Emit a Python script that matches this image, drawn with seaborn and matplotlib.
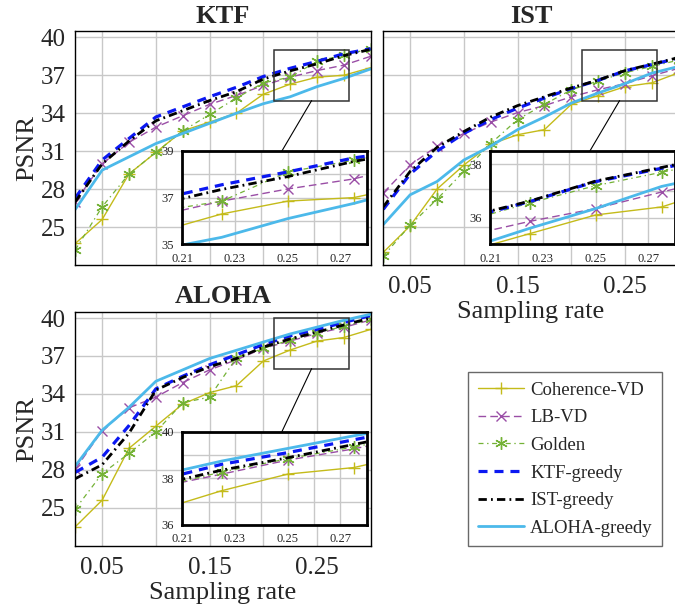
import matplotlib
matplotlib.use("Agg")
import matplotlib.pyplot as plt
from matplotlib.patches import Rectangle, ConnectionPatch
import pandas as pd
import seaborn as sns

# ---------------------------------------------------------------- data
rates = [0.025, 0.05, 0.075, 0.1, 0.125, 0.15, 0.175, 0.2, 0.225, 0.25, 0.275, 0.3]
methods = ["Coherence-VD", "LB-VD", "Golden", "KTF-greedy", "IST-greedy", "ALOHA-greedy"]
datasets = ["KTF", "IST", "ALOHA"]

# PSNR (dB) for the KTF reconstruction
ktf_coherence = [23.7, 25.6, 29.2, 30.9, 32.6, 33.3, 34.0, 35.5, 36.3, 36.85, 37.0, 37.6]
ktf_lbvd = [27.0, 30.0, 31.7, 32.9, 33.8, 34.7, 35.4, 36.2, 36.85, 37.37, 37.8, 38.5]
ktf_golden = [23.2, 26.6, 29.2, 30.9, 32.6, 33.9, 35.2, 36.4, 36.85, 38.1, 38.6, 39.1]
ktf_ktfgreedy = [27.3, 30.3, 32.0, 33.7, 34.5, 35.3, 36.05, 36.9, 37.55, 38.1, 38.7, 39.1]
ktf_istgreedy = [27.0, 30.0, 31.8, 33.4, 34.2, 35.0, 35.7, 36.7, 37.35, 37.9, 38.55, 39.05]
ktf_alohagreedy = [26.4, 29.5, 30.55, 31.6, 32.4, 33.2, 34.0, 34.75, 35.3, 36.1, 36.75, 37.5]

# PSNR (dB) for the IST reconstruction
ist_coherence = [23.0, 25.1, 28.0, 29.9, 31.55, 32.3, 32.7, 34.7, 35.4, 36.1, 36.4, 37.2]
ist_lbvd = [27.7, 29.9, 31.4, 32.4, 33.3, 34.05, 34.6, 35.3, 35.86, 36.34, 36.96, 37.55]
ist_golden = [22.7, 25.15, 27.2, 29.4, 31.6, 33.5, 34.7, 35.85, 36.55, 37.2, 37.7, 38.2]
ist_ktfgreedy = [26.4, 29.2, 31.0, 32.4, 33.5, 34.4, 35.2, 35.95, 36.6, 37.35, 37.85, 38.35]
ist_istgreedy = [26.6, 29.4, 31.3, 32.55, 33.7, 34.6, 35.3, 36.0, 36.62, 37.37, 37.88, 38.4]
ist_alohagreedy = [25.2, 27.55, 28.6, 30.3, 31.4, 32.7, 33.7, 34.8, 35.6, 36.34, 37.17, 37.7]

# PSNR (dB) for the ALOHA reconstruction
aloha_coherence = [23.5, 25.6, 29.7, 31.45, 33.2, 34.1, 34.65, 36.6, 37.47, 38.18, 38.46, 39.1]
aloha_lbvd = [28.05, 31.1, 32.9, 33.75, 34.9, 35.9, 36.7, 37.6, 38.18, 38.78, 39.26, 39.85]
aloha_golden = [24.9, 27.7, 29.3, 31.0, 33.3, 33.75, 36.85, 37.6, 38.27, 38.84, 39.34, 39.9]
aloha_ktfgreedy = [27.8, 29.0, 31.5, 34.4, 35.4, 36.3, 37.1, 37.9, 38.6, 39.1, 39.65, 40.2]
aloha_istgreedy = [27.3, 28.4, 30.9, 34.3, 35.3, 36.15, 36.8, 37.7, 38.35, 38.88, 39.45, 40.0]
aloha_alohagreedy = [28.3, 31.13, 32.94, 35.0, 35.9, 36.8, 37.45, 38.1, 38.74, 39.28, 39.82, 40.3]

x_ticks = [0.05, 0.10, 0.15, 0.20, 0.25]
x_tick_labels = ["0.05", "", "0.15", "", "0.25"]
y_ticks = [25, 28, 31, 34, 37, 40]
y_tick_labels = ["25", "28", "31", "34", "37", "40"]

zoom_x_ticks = [0.21, 0.22, 0.23, 0.24, 0.25, 0.26, 0.27, 0.28]
zoom_x_tick_labels = ["0.21", "", "0.23", "", "0.25", "", "0.27", ""]
ktf_zoom_y_ticks = [35, 36, 37, 38, 39]
ktf_zoom_y_tick_labels = ["35", "", "37", "", "39"]
ist_zoom_y_ticks = [35, 36, 37, 38]
ist_zoom_y_tick_labels = ["", "36", "", "38"]
aloha_zoom_y_ticks = [36, 37, 38, 39, 40]
aloha_zoom_y_tick_labels = ["36", "", "38", "", "40"]

tables = {
    "KTF": [ktf_coherence, ktf_lbvd, ktf_golden, ktf_ktfgreedy, ktf_istgreedy, ktf_alohagreedy],
    "IST": [ist_coherence, ist_lbvd, ist_golden, ist_ktfgreedy, ist_istgreedy, ist_alohagreedy],
    "ALOHA": [aloha_coherence, aloha_lbvd, aloha_golden, aloha_ktfgreedy, aloha_istgreedy,
              aloha_alohagreedy],
}

records = []
for ds in datasets:
    for method, values in zip(methods, tables[ds]):
        for r, v in zip(rates, values):
            records.append((ds, method, r, v))
df = pd.DataFrame(records, columns=["dataset", "method", "rate", "psnr"])

# ---------------------------------------------------------------- style
sns.set_theme(style="whitegrid")
plt.rcParams["font.family"] = ["Liberation Serif", "DejaVu Serif"]
plt.rcParams["lines.scale_dashes"] = False
plt.rcParams["axes.axisbelow"] = True

asterisk = (6, 2, 0)
styles = {
    "Coherence-VD": dict(color="#c4bb1a", lw=1.0, linestyle="-", marker="+", ms=9, mew=1.0),
    "LB-VD": dict(color="#9a4ea6", lw=1.0, linestyle=(0, (5.5, 3.0)), marker="x", ms=7, mew=1.0),
    "Golden": dict(color="#74b236", lw=0.9, linestyle=(0, (3.6, 2.6, 1.0, 2.6)), marker=asterisk,
                   ms=9, mew=1.0),
    "KTF-greedy": dict(color="#0b18f2", lw=2.3, linestyle=(0, (6.5, 5.0)), marker=None),
    "IST-greedy": dict(color="#000000", lw=2.0, linestyle=(0, (6.0, 3.0, 1.3, 3.0)), marker=None),
    "ALOHA-greedy": dict(color="#4cb9ea", lw=2.0, linestyle="-", marker=None),
}

zoom_setup = {
    "KTF": dict(box=(35, 39), ylim=(35, 39), yticks=ktf_zoom_y_ticks,
                ylabels=ktf_zoom_y_tick_labels),
    "IST": dict(box=(35, 39), ylim=(35, 38.5), yticks=ist_zoom_y_ticks,
                ylabels=ist_zoom_y_tick_labels),
    "ALOHA": dict(box=(36, 40), ylim=(36, 40), yticks=aloha_zoom_y_ticks,
                  ylabels=aloha_zoom_y_tick_labels),
}
zoom_xlim = (0.21, 0.28)

W, H = 675, 612
fig = plt.figure(figsize=(W / 100, H / 100), dpi=100)

ax_w, ax_h = 295.4 / W, 234 / H
positions = {
    "KTF": [75.3 / W, 1 - 265 / H, ax_w, ax_h],
    "IST": [383.3 / W, 1 - 265 / H, ax_w, ax_h],
    "ALOHA": [75.3 / W, 1 - 545.7 / H, ax_w, ax_h],
}
grid_kw = dict(color="#c8c8c8", lw=1.0)


def draw_series(ax, sub):
    for m in methods:
        st = dict(styles[m])
        kws = dict(color=st["color"], linewidth=st["lw"], linestyle=st["linestyle"])
        if st["marker"] is not None:
            kws.update(marker=st["marker"], markersize=st["ms"], markeredgewidth=st["mew"],
                       markeredgecolor=st["color"], markerfacecolor=st["color"])
        sns.lineplot(data=sub[sub["method"] == m], x="rate", y="psnr", ax=ax, label=m,
                     legend=False, estimator=None, sort=False, errorbar=None, **kws)


for ds in datasets:
    ax = fig.add_axes(positions[ds])
    sub = df[df["dataset"] == ds]
    draw_series(ax, sub)
    ax.set_xlim(0.025, 0.30)
    ax.set_ylim(22, 40.5)
    ax.set_xticks(x_ticks)
    ax.set_yticks(y_ticks)
    ax.grid(True, **grid_kw)
    for s in ax.spines.values():
        s.set_color("black")
        s.set_linewidth(1.0)
    ax.tick_params(direction="in", length=5, width=0.8, color="#666666", labelsize=18)
    ax.tick_params(axis="x", pad=8)
    ax.tick_params(axis="y", pad=7)
    ax.set_xlabel("")
    ax.set_ylabel("")
    if ds == "KTF":
        ax.set_xticklabels([])
    else:
        ax.set_xticklabels(x_tick_labels)
        ax.set_xlabel("Sampling rate", fontsize=19, labelpad=2)
    if ds == "IST":
        ax.set_yticklabels([])
    else:
        ax.set_yticklabels(y_tick_labels)
        ax.set_ylabel("PSNR", fontsize=19, labelpad=2)
    ax.set_title(ds, fontsize=19, fontweight="bold", pad=6)

    # zoomed window
    z = zoom_setup[ds]
    ax.add_patch(Rectangle((zoom_xlim[0], z["box"][0]), zoom_xlim[1] - zoom_xlim[0],
                           z["box"][1] - z["box"][0], fill=False, edgecolor="#333333",
                           lw=1.1, zorder=4))
    ins = ax.inset_axes([0.362, 0.0885, 0.625, 0.399])
    ins.set_facecolor("white")
    draw_series(ins, sub)
    ins.set_xlim(*zoom_xlim)
    ins.set_ylim(*z["ylim"])
    ins.set_xticks(zoom_x_ticks)
    ins.set_xticklabels(zoom_x_tick_labels)
    ins.set_yticks(z["yticks"])
    ins.set_yticklabels(z["ylabels"])
    ins.set_xlabel("")
    ins.set_ylabel("")
    ins.grid(True, **grid_kw)
    for s in ins.spines.values():
        s.set_color("black")
        s.set_linewidth(2.0)
    ins.tick_params(direction="in", length=3, width=0.8, color="#666666", labelsize=9, pad=6)
    mid_x = 0.5 * (zoom_xlim[0] + zoom_xlim[1])
    con = ConnectionPatch(xyA=(mid_x, z["box"][0]), coordsA=ax.transData,
                          xyB=(0.54, 1.0), coordsB=ins.transAxes,
                          color="black", lw=0.8, zorder=4)
    ax.add_artist(con)
    if ds == "KTF":
        handles, labels = ax.get_legend_handles_labels()

leg = fig.legend(handles, labels, loc="upper left", bbox_to_anchor=(468.3 / W, 1 - 372.3 / H),
                 fontsize=13.5, frameon=True, fancybox=False, shadow=False,
                 handlelength=2.45, handletextpad=0.35, labelspacing=0.56, borderpad=0.5,
                 borderaxespad=0.0)
leg.get_frame().set_edgecolor("#444444")
leg.get_frame().set_linewidth(1.0)

fig.savefig("out.png", dpi=100)
